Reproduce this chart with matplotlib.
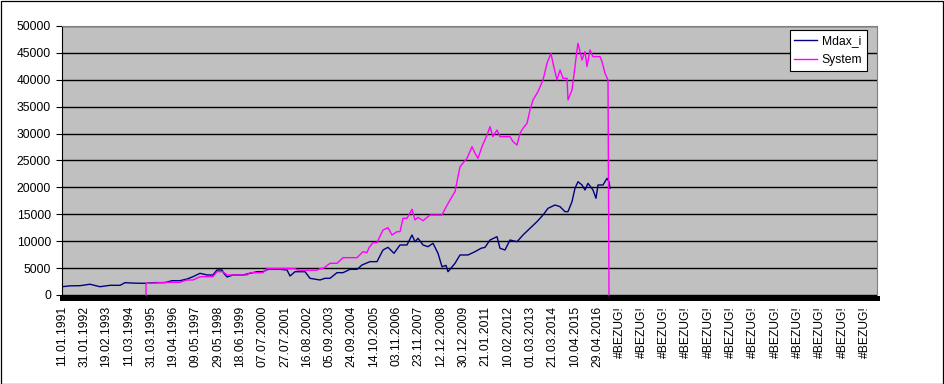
import numpy as np
import matplotlib.pyplot as plt
from matplotlib.patches import Rectangle

plt.rcParams['font.family'] = ['Liberation Sans', 'DejaVu Sans']

# Kategorie-Beschriftungen (alle 223 Zeilen eine)
labels = ["11.01.1991", "31.01.1992", "19.02.1993", "11.03.1994", "31.03.1995",
          "19.04.1996", "09.05.1997", "29.05.1998", "18.06.1999", "07.07.2000",
          "27.07.2001", "16.08.2002", "05.09.2003", "24.09.2004", "14.10.2005",
          "03.11.2006", "23.11.2007", "12.12.2008", "30.12.2009", "21.01.2011",
          "10.02.2012", "01.03.2013", "21.03.2014", "10.04.2015", "29.04.2016"] + ["#BEZUG!"] * 12
rows_per_label = 223
n_rows = 8150

# Mdax_i (Zeile, Wert)
mdax_row = [0, 80, 180, 280, 380, 480, 580, 630, 730, 830, 930, 1030, 1100, 1180, 1250, 1310,
            1380, 1450, 1510, 1550, 1600, 1620, 1650, 1710, 1810, 1880, 1950, 2010, 2060, 2180,
            2250, 2280, 2330, 2430, 2480, 2580, 2630, 2680, 2750, 2810, 2880, 2950, 3000, 3080,
            3150, 3210, 3260, 3320, 3380, 3450, 3500, 3530, 3560, 3610, 3660, 3710, 3760, 3800,
            3840, 3860, 3930, 3980, 4060, 4130, 4190, 4230, 4280, 4350, 4380, 4430, 4480, 4550,
            4610, 4680, 4750, 4810, 4860, 4930, 4980, 5030, 5060, 5100, 5130, 5160, 5200, 5230,
            5260, 5310, 5340, 5360, 5410, 5450, 5470, 5480]
mdax_val = [1540, 1700, 1730, 2000, 1540, 1800, 1800, 2290, 2200, 2170, 2300, 2300, 2660, 2660,
            2970, 3400, 4030, 3720, 3720, 4650, 4650, 4000, 3350, 3720, 3720, 4030, 4330, 4330,
            4770, 4770, 4650, 3530, 4330, 4330, 3100, 2790, 3100, 3100, 4150, 4150, 4770, 4770,
            5580, 6200, 6200, 8370, 8860, 7750, 9300, 9300, 11150, 9900, 10540, 9300, 8980, 9610,
            7750, 5260, 5500, 4330, 5890, 7440, 7440, 8050, 8680, 8860, 10220, 10840, 8680, 8370,
            10220, 9910, 11150, 12400, 13630, 14870, 16110, 16730, 16420, 15490, 15490, 17350,
            19840, 21060, 20450, 19520, 20760, 19520, 17980, 20450, 20450, 21690, 21060, 19840]

# System (Zeile, Wert)
sys_row = [840, 840, 880, 1050, 1180, 1250, 1310, 1380, 1510, 1550, 1610, 1650, 1850, 1880, 2010,
           2050, 2330, 2360, 2550, 2580, 2610, 2680, 2750, 2810, 2950, 3010, 3050, 3070, 3110,
           3150, 3210, 3260, 3300, 3350, 3380, 3410, 3450, 3500, 3530, 3560, 3610, 3680, 3800,
           3830, 3880, 3930, 3980, 4050, 4100, 4130, 4160, 4200, 4250, 4280, 4310, 4350, 4380,
           4480, 4510, 4550, 4580, 4610, 4650, 4680, 4710, 4760, 4810, 4850, 4890, 4910, 4950,
           4980, 5010, 5050, 5060, 5100, 5130, 5150, 5160, 5200, 5230, 5250, 5280, 5310, 5380,
           5400, 5430, 5460, 5470]
sys_val = [0, 2170, 2170, 2360, 2360, 2790, 2790, 3400, 3400, 4340, 4340, 3720, 3720, 4150, 4150,
           4900, 4900, 4600, 4600, 4900, 4900, 5890, 5890, 6940, 6940, 8050, 7870, 8800, 9730,
           9730, 12080, 12510, 11150, 11770, 11770, 14250, 14250, 15930, 13940, 14440, 13810,
           14870, 14870, 15990, 17660, 19200, 23850, 25410, 27570, 26340, 25410, 27570, 29740,
           31290, 29430, 30670, 29430, 29430, 28500, 27880, 30050, 30980, 31910, 34390, 36250,
           37800, 39970, 43070, 44930, 43070, 39970, 41830, 40280, 40280, 36250, 38110, 42450,
           45550, 46790, 43690, 45240, 42450, 45550, 44310, 44310, 43380, 41210, 39970, 0]

fig = plt.figure(figsize=(9.45, 3.84), dpi=100)
ax = fig.add_axes([62/945, (384-297.5)/384, 815/945, 271.5/384])
ax.set_facecolor("#C0C0C0")

ax.plot(mdax_row, mdax_val, color="#000080", linewidth=1.0, label="Mdax_i")
ax.plot(sys_row, sys_val, color="#FF00FF", linewidth=1.0, label="System")

ax.set_xlim(0, n_rows)
ax.set_ylim(-465, 50000)
ax.set_yticks(np.arange(0, 50001, 5000))
ax.yaxis.grid(True, color="black", linewidth=1.0)
ax.set_axisbelow(True)

ax.set_xticks(np.arange(len(labels)) * rows_per_label)
ax.set_xticklabels(labels, rotation=90, fontsize=8.7)
ax.tick_params(axis="x", length=0, pad=6)
ax.tick_params(axis="y", length=4, width=0.8, pad=4, labelsize=8.7)

ax.spines["bottom"].set_linewidth(3.6)
ax.spines["bottom"].set_color("black")
ax.spines["left"].set_color("black")
ax.spines["left"].set_linewidth(0.8)
ax.spines["top"].set_color("#808080")
ax.spines["right"].set_color("#808080")

leg = ax.legend(loc="upper right", bbox_to_anchor=(805/815, 1 - 4/271.5), borderaxespad=0,
                fontsize=8.7, fancybox=False, framealpha=1, edgecolor="black",
                handlelength=1.9, handletextpad=0.35, labelspacing=0.6, borderpad=0.4)
leg.get_frame().set_linewidth(0.8)

fig.patches.append(Rectangle((0.5/945, 0.5/384), 943/945, 382.5/384, transform=fig.transFigure,
                             fill=False, edgecolor="black", linewidth=0.9))

fig.savefig("out.png", dpi=100)
